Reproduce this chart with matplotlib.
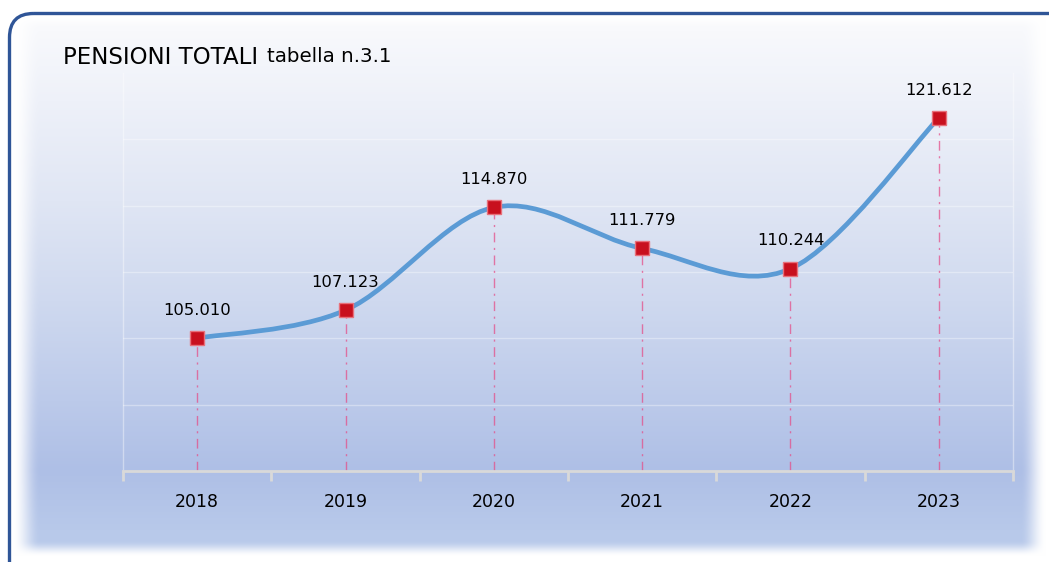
import numpy as np
import matplotlib
matplotlib.use("Agg")
import matplotlib.pyplot as plt
from matplotlib.path import Path
from matplotlib.patches import PathPatch, FancyBboxPatch
from matplotlib.ticker import FixedLocator, NullLocator

# ---------------- data ----------------
years = ["2018", "2019", "2020", "2021", "2022", "2023"]
values = [105.010, 107.123, 114.870, 111.779, 110.244, 121.612]
value_labels = ["105.010", "107.123", "114.870", "111.779", "110.244", "121.612"]
title_main = "PENSIONI TOTALI"
title_sub = "tabella n.3.1"

W, H = 1049, 562
fig = plt.figure(figsize=(W / 100, H / 100), dpi=100)
plt.rcParams['font.family'] = ['DejaVu Sans']

# ---------------- background ----------------
bg = fig.add_axes([0, 0, 1, 1], zorder=0)
bg.set_xlim(0, W)
bg.set_ylim(H, 0)
bg.axis("off")
yy = np.arange(H)
xx = np.arange(W)
stops_y = [0, 30, 100, 200, 300, 400, 470, 530, 562]
stops_c = np.array([
    [252, 252, 254], [248, 249, 252], [238, 241, 249], [224, 230, 244],
    [207, 217, 239], [188, 202, 234], [174, 191, 230], [184, 201, 234], [186, 203, 235]
], dtype=float)
col = np.stack([np.interp(yy, stops_y, stops_c[:, k]) for k in range(3)], axis=1)
img = np.repeat(col[:, None, :], W, axis=1)


def smooth(t):
    t = np.clip(t, 0, 1)
    return t * t * (3 - 2 * t)


mx = smooth((xx - 12) / 28.0) * smooth((1046 - xx) / 26.0)
my = smooth((yy - 14) / 14.0) * smooth((556 - yy) / 16.0)
m = my[:, None] * mx[None, :]
white = np.array([255.0, 255.0, 255.0])
img = white * (1 - m[..., None]) + img * m[..., None]
bg.imshow(img.astype(np.uint8), extent=[0, W, H, 0], aspect="auto", interpolation="bilinear")
frame = FancyBboxPatch((9.5, 13.5), 1080, 580, boxstyle="round,pad=0,rounding_size=24",
                       fill=False, edgecolor="#2F5597", linewidth=2.4)
bg.add_patch(frame)

# ---------------- main axes ----------------
left, right = 123 / W, 1013 / W
bottom, top = 1 - 471 / H, 1 - 73 / H
ax = fig.add_axes([left, bottom, right - left, top - bottom], zorder=2)
ax.patch.set_alpha(0)
x = np.arange(len(years))
ax.set_xlim(-0.5, len(years) - 0.5)
ax.set_ylim(95, 125)

for gy in [100, 105, 110, 115, 120]:
    ax.axhline(gy, color="white", alpha=0.35, linewidth=1.0, zorder=1)

ax.spines["top"].set_visible(False)
for s in ["left", "right"]:
    ax.spines[s].set_color((1, 1, 1, 0.4))
    ax.spines[s].set_linewidth(1.0)
ax.spines["bottom"].set_color("#D9D9D9")
ax.spines["bottom"].set_linewidth(2.0)

ax.yaxis.set_major_locator(NullLocator())
ax.set_xticks(x)
ax.set_xticklabels(years, fontsize=12.5, color="#000000")
ax.tick_params(axis="x", which="major", length=0, pad=16)
ax.xaxis.set_minor_locator(FixedLocator(np.arange(-0.5, len(years), 1.0)))
ax.tick_params(axis="x", which="minor", length=7, width=2, color="#D9D9D9", direction="out")

# drop lines
ax.vlines(x, 95, values, colors="#E4508A", linestyles=(0, (7, 4, 1.5, 4)), linewidth=1.0,
          alpha=0.75, zorder=2)

# smoothed line (Bezier, Catmull-Rom style control points)
pts = np.column_stack([x, values]).astype(float)
n = len(pts)
verts = [tuple(pts[0])]
codes = [Path.MOVETO]
for i in range(n - 1):
    p_prev = pts[i - 1] if i > 0 else pts[i]
    p0 = pts[i]
    p1 = pts[i + 1]
    p_next = pts[i + 2] if i + 2 < n else pts[i + 1]
    c1 = p0 + (p1 - p_prev) / 6.0
    c2 = p1 - (p_next - p0) / 6.0
    verts += [tuple(c1), tuple(c2), tuple(p1)]
    codes += [Path.CURVE4] * 3
curve = PathPatch(Path(verts, codes), facecolor="none", edgecolor="#5B9BD5",
                  linewidth=3.4, capstyle="round", zorder=3)
ax.add_patch(curve)

ax.plot(x, values, linestyle="none", marker="s", markersize=10,
        markerfacecolor="#C8101E", markeredgecolor="#E8707A", markeredgewidth=1.0, zorder=4)

for xi, v, lab in zip(x, values, value_labels):
    ax.annotate(lab, (xi, v), xytext=(0, 20), textcoords="offset points",
                ha="center", va="center", fontsize=11.8, color="#000000", zorder=5)

# ---------------- title ----------------
t1 = fig.text(63 / W, 1 - 57 / H, title_main, fontsize=16.5, ha="left", va="center", color="#000000")
fig.canvas.draw()
r = fig.canvas.get_renderer()
bb = t1.get_window_extent(renderer=r)
fig.text((bb.x1 + 9) / W, 1 - 57 / H, title_sub, fontsize=14.3, ha="left", va="center",
         color="#000000")

fig.savefig("out.png", dpi=100)
